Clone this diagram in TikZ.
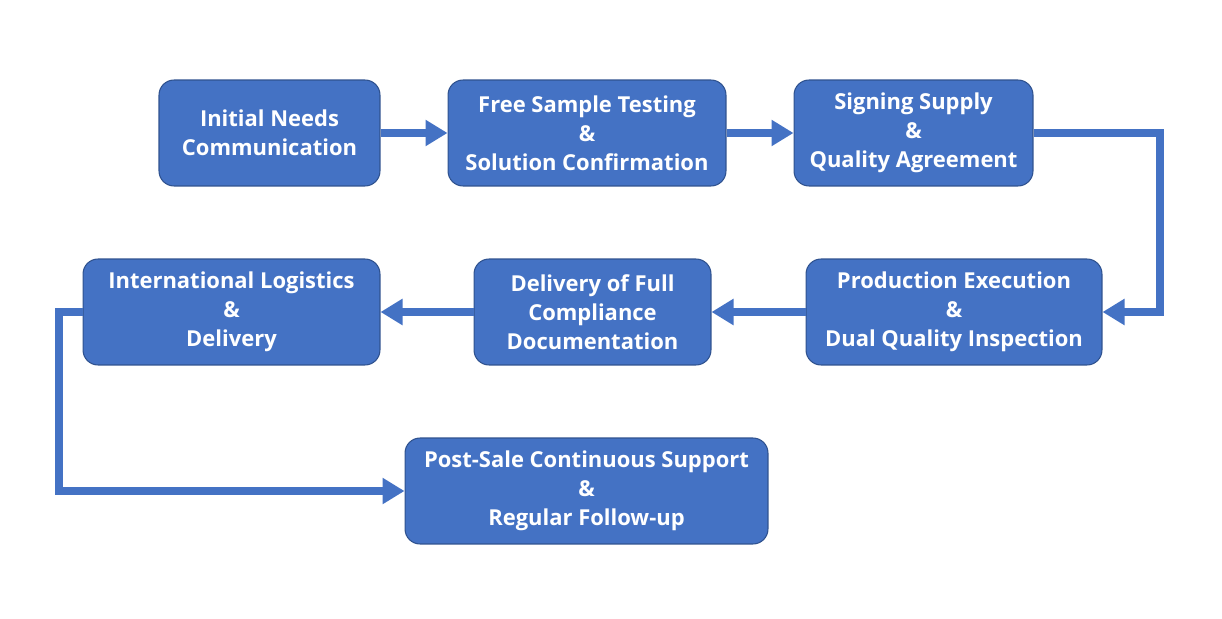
\documentclass[tikz,border=0pt]{standalone}
\usepackage{fontspec}
\setmainfont{Open Sans}
\usetikzlibrary{arrows.meta}
\definecolor{boxblue}{HTML}{4472C4}
\definecolor{boxedge}{HTML}{2F528F}
\begin{document}
\begin{tikzpicture}[x=0.02cm, y=-0.02cm]
\tikzset{ >={Triangle[length=0.44cm, width=0.50cm]},
  stagebox/.style={fill=boxblue, draw=boxedge, line width=0.6pt, rounded corners=0.3cm,
    minimum height=2.12cm, inner sep=0pt, align=center, text=white,
    font=\fontsize{12.5}{16.5}\selectfont\bfseries},
  flow/.style={->, draw=boxblue, line width=0.16cm},
}

\useasboundingbox (0,0) rectangle (1222,618);

% first row
\node [stagebox, minimum width=4.42cm] (needs)  at (269.5,133) {Initial Needs\\Communication};
\node [stagebox, minimum width=5.56cm] (sample) at (587,133)   {Free Sample Testing\\\&\\Solution Confirmation};
\node [stagebox, minimum width=4.78cm] (supply) at (913.5,133) {Signing Supply\\\&\\Quality Agreement};

% second row
\node [stagebox, minimum width=5.92cm] (prod)   at (954,312)   {Production Execution\\\&\\Dual Quality Inspection};
\node [stagebox, minimum width=4.74cm] (docs)   at (592.5,312) {Delivery of Full\\Compliance\\Documentation};
\node [stagebox, minimum width=5.94cm] (logist) at (231.5,312) {International Logistics\\\&\\Delivery};

% last row
\node [stagebox, minimum width=7.26cm] (after)  at (586.5,491) {Post-Sale Continuous Support\\\&\\Regular Follow-up};

% bends
\coordinate (turnR) at (1160,133);
\coordinate (turnL) at (59,312);

\draw [flow] (needs)  -- (sample);
\draw [flow] (sample) -- (supply);
\draw [flow] (supply.east) -- (turnR) |- (prod.east);
\draw [flow] (prod)   -- (docs);
\draw [flow] (docs)   -- (logist);
\draw [flow] (logist.west) -- (turnL) |- (after.west);

\end{tikzpicture}
\end{document}
